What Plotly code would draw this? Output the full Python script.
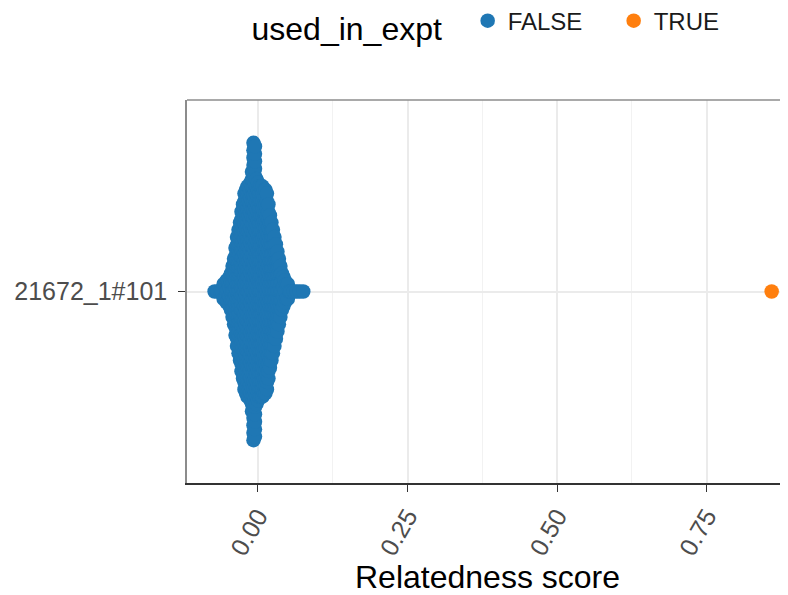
import numpy as np
import plotly.graph_objects as go

# ---- data ----
sample_label = "21672_1#101"
# relatedness-score histogram of the FALSE group (bin centres and counts)
false_bins = [-0.0725, -0.0675, -0.0625, -0.0600, -0.0575, -0.0550, -0.0525, -0.0500,
              -0.0475, -0.0450, -0.0425, -0.0400, -0.0375, -0.0350, -0.0325, -0.0300,
              -0.0275, -0.0250, -0.0225, -0.0200, -0.0175, -0.0150, -0.0125, -0.0100,
              -0.0075, -0.0050, -0.0025, 0.0000, 0.0025, 0.0050, 0.0075, 0.0100,
              0.0125, 0.0150, 0.0175, 0.0200, 0.0225, 0.0250, 0.0275, 0.0300,
              0.0325, 0.0350, 0.0375, 0.0400, 0.0425, 0.0450, 0.0475, 0.0500,
              0.0525, 0.0550, 0.0600, 0.0650, 0.0700, 0.0757]
false_counts = [1, 1, 1, 1, 2, 2, 3, 3,
                4, 5, 7, 9, 12, 15, 17, 19,
                22, 24, 27, 28, 29, 29, 30, 33,
                41, 40, 31, 30, 29, 29, 29, 28,
                28, 27, 24, 21, 19, 17, 15, 13,
                11, 9, 7, 5, 4, 3, 2, 2,
                1, 1, 1, 1, 1, 1]
true_scores = [0.8585]

# ---- swarm layout: vertical spread proportional to local density ----
max_offset = 0.466
max_count = max(false_counts)
fx, fy = [], []
for c, n in zip(false_bins, false_counts):
    h = max_offset * n / max_count
    offs = np.linspace(-h, h, n) if n > 1 else np.array([0.0])
    fx.extend([c] * n)
    fy.extend(offs.tolist())

FONT = "Liberation Sans, Arial, sans-serif"
BLUE = "#1F77B4"
ORANGE = "#FF7F0E"

fig = go.Figure()
fig.add_trace(go.Scatter(x=fx, y=fy, mode="markers", name="FALSE",
                         marker=dict(color=BLUE, size=14.5, line=dict(width=0))))
fig.add_trace(go.Scatter(x=true_scores, y=[0] * len(true_scores), mode="markers", name="TRUE",
                         marker=dict(color=ORANGE, size=14.5, line=dict(width=0))))

# the page body has an 8px default margin, so the figure is 8px smaller than the window
fig.update_layout(
    width=780, height=587,
    margin=dict(l=179, r=0, t=92, b=112, autoexpand=False),
    plot_bgcolor="white", paper_bgcolor="white",
    font=dict(family=FONT, color="#000000"),
    showlegend=True,
    legend=dict(orientation="h", x=0.104, xanchor="left", y=1.197, yanchor="middle",
                title=dict(text="used_in_expt\u00a0\u00a0", font=dict(size=32, color="#000000")),
                font=dict(size=24, color="#1a1a1a"), itemsizing="trace",
                entrywidth=101, entrywidthmode="pixels",
                bgcolor="rgba(0,0,0,0)"),
    xaxis=dict(range=[-0.1186, 0.8858], tick0=0, dtick=0.25, tickformat=".2f",
               showgrid=True, gridcolor="#ebebeb", gridwidth=1.5,
               minor=dict(dtick=0.125, tick0=0, showgrid=True, gridcolor="#f2f2f2", gridwidth=1),
               zeroline=False, showline=True, linecolor="#333333", linewidth=1.5,
               ticks="outside", ticklen=7, tickwidth=1.3, tickcolor="#333333",
               tickangle=-60, tickfont=dict(size=25, color="#4d4d4d"),
               title=dict(text="Relatedness score", font=dict(size=32, color="#000000"), standoff=11),
               automargin=False),
    yaxis=dict(range=[-0.6, 0.6], tickvals=[0], ticktext=[sample_label],
               showgrid=True, gridcolor="#ebebeb", gridwidth=1.5, zeroline=False,
               showline=True, linecolor="#8c8c8c", linewidth=1.5,
               ticks="outside", ticklen=7, tickwidth=1.3, tickcolor="#333333",
               ticklabelstandoff=6,
               tickfont=dict(size=25, color="#4d4d4d"), automargin=False),
)
# top panel border
fig.add_shape(type="line", xref="paper", yref="paper", x0=0, x1=1, y0=1, y1=1,
              line=dict(color="#8c8c8c", width=1.5))

fig.write_html("out.html")
